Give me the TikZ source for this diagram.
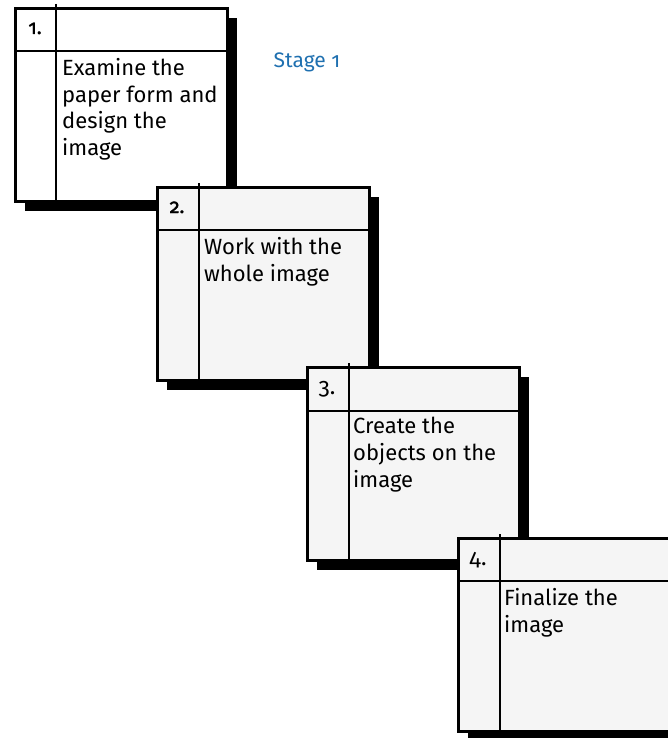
\documentclass[tikz,border=0pt]{standalone}
\usepackage{fontspec}
\setmainfont{Fira Sans}
\newfontfamily\numfont{Fira Sans}[Numbers=OldStyle]
\newfontfamily\numboldfont{Fira Sans}[Numbers=OldStyle,FakeBold=1.6]
\usetikzlibrary{shadows,calc}
\definecolor{cardgray}{HTML}{F5F5F5}
\definecolor{stageblue}{HTML}{1F70B0}
\begin{document}
\begin{tikzpicture}[x=1pt,y=-1pt,
  card/.style={draw=black,line width=2.8pt,minimum width=212pt,minimum height=193pt,
    anchor=north west,inner sep=0pt,
    drop shadow={shadow xshift=10pt,shadow yshift=-10pt,fill=black,opacity=1}},
  rulel/.style={line width=2.8pt},
  body/.style={anchor=north west,inner sep=0pt,align=left,font=\fontsize{22}{26.7}\selectfont},
  num/.style={inner sep=0pt,anchor=base,font=\numfont\fontsize{23}{26}\selectfont},
  numbold/.style={inner sep=0pt,anchor=base,font=\numboldfont\fontsize{20}{24}\selectfont}]
\useasboundingbox (0,0) rectangle (667,738);

% box 1
\node[card,fill=white] (b1) at (14,7) {};
\draw[rulel] ($(b1.north west)+(42,-3)$) -- ($(b1.south west)+(42,0)$);
\draw[rulel] ($(b1.north west)+(0,44)$) -- ($(b1.north east)+(0,44)$);
\node[numbold] (n1) at ($(b1.north west)+(21,27)$) {1.};
\node[body] (t1) at ($(b1.north west)+(48,51)$) {Examine the\\paper form and\\design the\\image};

% box 2
\node[card,fill=cardgray] (b2) at (156,186) {};
\draw[rulel] ($(b2.north west)+(43,-3)$) -- ($(b2.south west)+(43,0)$);
\draw[rulel] ($(b2.north west)+(0,44)$) -- ($(b2.north east)+(0,44)$);
\node[numbold] (n2) at ($(b2.north west)+(21,27)$) {2.};
\node[body] (t2) at ($(b2.north west)+(48,51)$) {Work with the\\whole image};

% box 3
\node[card,fill=cardgray] (b3) at (306,366) {};
\draw[rulel] ($(b3.north west)+(43,-3)$) -- ($(b3.south west)+(43,0)$);
\draw[rulel] ($(b3.north west)+(0,45)$) -- ($(b3.north east)+(0,45)$);
\node[num] (n3) at ($(b3.north west)+(21,28)$) {3.};
\node[body] (t3) at ($(b3.north west)+(47,51)$) {Create the\\objects on the\\image};

% box 4
\node[card,fill=cardgray] (b4) at (457,537) {};
\draw[rulel] ($(b4.north west)+(43,-3)$) -- ($(b4.south west)+(43,0)$);
\draw[rulel] ($(b4.north west)+(0,44)$) -- ($(b4.north east)+(0,44)$);
\node[num] (n4) at ($(b4.north west)+(21,28)$) {4.};
\node[body] (t4) at ($(b4.north west)+(47,51)$) {Finalize the\\image};

% stage label
\node[text=stageblue,inner sep=0pt,font=\numfont\fontsize{21}{24}\selectfont] (stage) at (307,62) {Stage 1};
\end{tikzpicture}
\end{document}
